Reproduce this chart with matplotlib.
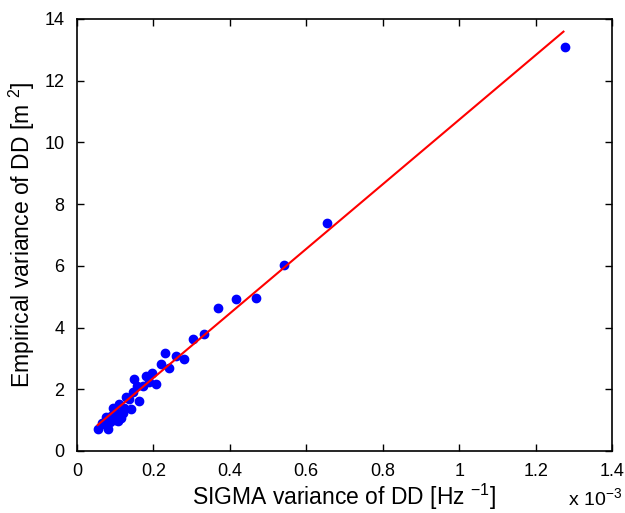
import numpy as np
import matplotlib.pyplot as plt
from matplotlib.ticker import FuncFormatter

# SIGMA variance (Hz^-1) and empirical variance (m^2)
sigma_var = np.array([0.054, 0.080, 0.065, 0.076, 0.086, 0.093, 0.099, 0.104, 0.110, 0.115,
                      0.120, 0.123, 0.128, 0.135, 0.141, 0.146, 0.150, 0.163, 0.158, 0.174,
                      0.181, 0.188, 0.195, 0.207, 0.220, 0.229, 0.242, 0.258, 0.281, 0.303,
                      0.332, 0.368, 0.415, 0.468, 0.542, 0.655, 1.276, 0.070, 0.090, 0.107]) * 1e-3
emp_var = np.array([0.71, 0.71, 0.92, 1.09, 0.95, 1.38, 1.00, 1.22, 1.52, 1.06,
                    1.24, 1.40, 1.74, 1.68, 1.35, 1.91, 2.32, 1.63, 2.10, 2.10,
                    2.43, 2.25, 2.54, 2.16, 2.81, 3.19, 2.70, 3.08, 2.97, 3.62,
                    3.78, 4.64, 4.91, 4.97, 6.03, 7.39, 13.10, 0.88, 1.12, 0.98])

# fitted line end points
fit_x = np.array([0.054, 1.273]) * 1e-3
fit_y = np.array([0.84, 13.59])

plt.rcParams['font.family'] = ['Liberation Sans', 'DejaVu Sans']
plt.rcParams['mathtext.fontset'] = 'custom'
plt.rcParams['mathtext.rm'] = 'Liberation Sans'
plt.rcParams['mathtext.it'] = 'Liberation Sans'

fig = plt.figure(figsize=(6.25, 5.13), dpi=100)
ax = fig.add_axes([0.1232, 0.1209, 0.8560, 0.8421])

ax.plot(sigma_var, emp_var, 'o', color='#0000ff', markersize=6, zorder=2)
ax.plot(fit_x, fit_y, '-', color='#ff0000', linewidth=1.5, zorder=3)

ax.set_xlim(0, 1.4e-3)
ax.set_ylim(0, 14)
ax.set_xticks(np.arange(0, 1.41e-3, 0.2e-3))
ax.set_yticks(np.arange(0, 15, 2))
ax.xaxis.set_major_formatter(FuncFormatter(lambda v, p: ('%g' % round(v * 1e3, 3))))
ax.tick_params(direction='in', top=True, right=True, labelsize=13, length=5, width=1)
ax.tick_params(axis='x', pad=9)
ax.tick_params(axis='y', pad=9)
for s in ax.spines.values():
    s.set_linewidth(1.2)

ax.set_xlabel('SIGMA variance of DD [Hz $^{-1}$]', fontsize=16.5, labelpad=1)
ax.set_ylabel('Empirical variance of DD [m $^{2}$]', fontsize=16.5, labelpad=5)
fig.text(0.908, 0.016, 'x 10$^{-3}$', fontsize=14, va='baseline')

fig.savefig('out.png', dpi=100)
